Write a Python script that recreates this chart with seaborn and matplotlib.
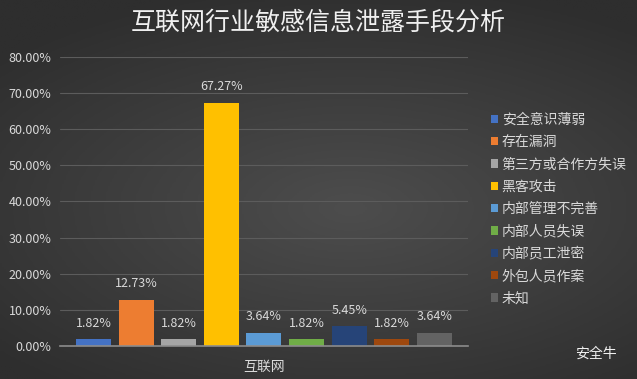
import matplotlib.pyplot as plt
import seaborn as sns
import numpy as np
import pandas as pd
from matplotlib.colors import LinearSegmentedColormap

# 数据
methods = ["安全意识薄弱", "存在漏洞", "第三方或合作方失误", "黑客攻击", "内部管理不完善",
           "内部人员失误", "内部员工泄密", "外包人员作案", "未知"]
values = [1.82, 12.73, 1.82, 67.27, 3.64, 1.82, 5.45, 1.82, 3.64]
colors = ["#4472C4", "#ED7D31", "#A5A5A5", "#FFC000", "#5B9BD5",
          "#70AD47", "#264478", "#9E480E", "#636363"]
yticks = [0, 10, 20, 30, 40, 50, 60, 70, 80]

df = pd.DataFrame({"industry": "互联网", "method": methods, "value": values})

sns.set_theme(style="dark")
plt.rcParams['font.family'] = ['Noto Sans CJK SC', 'DejaVu Sans']
bg = "#404040"
txt = "#d9d9d9"

fig = plt.figure(figsize=(6.37, 3.79), dpi=100, facecolor=bg)

# 背景渐变
bg_ax = fig.add_axes([0, 0, 1, 1], zorder=-10)
yy, xx = np.mgrid[0:1:200j, 0:1:300j]
dist = np.sqrt(((xx - 0.55) / 1.0) ** 2 + ((yy - 0.55) / 0.8) ** 2)
cmap = LinearSegmentedColormap.from_list("bg", ["#4d4d4d", "#2e2e2e"])
bg_ax.imshow(dist, cmap=cmap, aspect="auto", extent=[0, 1, 0, 1], vmin=0, vmax=0.75)
bg_ax.axis("off")

ax = fig.add_axes([0.094, 0.0871, 0.6405, 0.7625])
ax.patch.set_alpha(0)

sns.barplot(data=df, x="industry", y="value", hue="method", palette=colors,
            width=0.94, gap=0.18, saturation=1, linewidth=0, ax=ax, legend=True)

for c in ax.containers:
    ax.bar_label(c, labels=[f"{v:.2f}%" for v in c.datavalues], padding=7,
                 color=txt, fontsize=9)

ax.set_ylim(0, 80)
ax.set_xlim(-0.5, 0.5)
ax.set_yticks(yticks)
ax.set_yticklabels([f"{t:.2f}%" for t in yticks], color=txt, fontsize=9)
ax.tick_params(axis='x', colors=txt, labelsize=10, length=0, pad=10)
ax.tick_params(axis='y', length=0, pad=6)
ax.set_xlabel("")
ax.set_ylabel("")
ax.grid(axis='y', color="#5c5c5c", linewidth=0.8)
ax.set_axisbelow(True)
for s in ["top", "right", "left"]:
    ax.spines[s].set_visible(False)
ax.spines["bottom"].set_color("#8c8c8c")
ax.spines["bottom"].set_linewidth(1.2)

leg = ax.legend(loc="upper left", bbox_to_anchor=(1.025, 0.85), frameon=False,
                fontsize=10, handlelength=0.55, handleheight=0.55,
                handletextpad=0.25, labelspacing=0.6, labelcolor=txt)

fig.text(0.5, 0.94, "互联网行业敏感信息泄露手段分析", ha="center", va="center",
         color="#f0f0f0", fontsize=18)
fig.text(0.935, 0.068, "安全牛", ha="center", va="center", color="#f0f0f0", fontsize=10)

fig.savefig("out.png", dpi=100, facecolor=bg)
